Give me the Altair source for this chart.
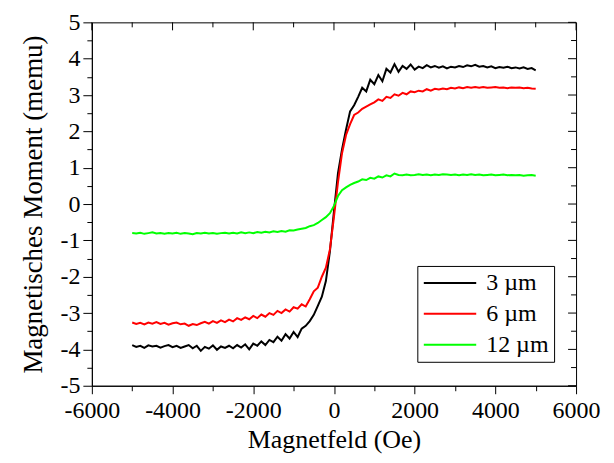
import altair as alt
import pandas as pd

field = list(range(-5000, 5001, 100))

m_3um = [
    -3.88, -3.93, -3.90, -3.96, -3.89, -3.92, -3.90, -3.95, -3.91, -3.88,
    -3.94, -3.90, -3.96, -3.92, -3.88, -3.97, -3.90, -4.04, -3.93, -3.98,
    -3.89, -4.01, -3.92, -3.96, -3.90, -3.97, -3.88, -3.95, -3.86, -4.00,
    -3.84, -3.90, -3.78, -3.88, -3.74, -3.80, -3.65, -3.76, -3.58, -3.70,
    -3.52, -3.66, -3.43, -3.35, -3.22, -3.05, -2.80, -2.55, -2.12, -1.30,
    -0.20, 0.85, 1.50, 2.05, 2.55, 2.72, 2.95, 3.20, 3.10, 3.42,
    3.30, 3.55, 3.38, 3.72, 3.62, 3.85, 3.64, 3.80, 3.72, 3.84,
    3.70, 3.78, 3.74, 3.82, 3.76, 3.80, 3.75, 3.79, 3.73, 3.78,
    3.76, 3.80, 3.77, 3.82, 3.79, 3.83, 3.78, 3.80, 3.76, 3.79,
    3.74, 3.77, 3.75, 3.78, 3.74, 3.76, 3.73, 3.76, 3.72, 3.74,
    3.68,
]

m_6um = [
    -3.26, -3.30, -3.27, -3.31, -3.26, -3.29, -3.25, -3.30, -3.27, -3.32,
    -3.28, -3.26, -3.31, -3.29, -3.35, -3.30, -3.33, -3.28, -3.24, -3.29,
    -3.22, -3.27, -3.20, -3.25, -3.18, -3.23, -3.14, -3.19, -3.12, -3.17,
    -3.08, -3.14, -3.04, -3.10, -3.00, -3.05, -2.94, -3.00, -2.90, -2.96,
    -2.84, -2.88, -2.76, -2.82, -2.62, -2.40, -2.30, -2.00, -1.75, -1.25,
    -0.35, 0.60, 1.40, 1.90, 2.20, 2.45, 2.52, 2.62, 2.68, 2.74,
    2.80, 2.88, 2.84, 2.95, 2.92, 3.02, 2.98, 3.06, 3.02, 3.10,
    3.08, 3.12, 3.10, 3.16, 3.12, 3.17, 3.15, 3.18, 3.16, 3.20,
    3.18, 3.21, 3.19, 3.22, 3.20, 3.22, 3.20, 3.22, 3.20, 3.21,
    3.22, 3.20, 3.21, 3.19, 3.21, 3.20, 3.21, 3.19, 3.20, 3.18,
    3.17,
]

m_12um = [
    -0.80, -0.81, -0.79, -0.82, -0.80, -0.78, -0.81, -0.80, -0.82, -0.80,
    -0.81, -0.79, -0.82, -0.80, -0.81, -0.83, -0.80, -0.81, -0.79, -0.81,
    -0.80, -0.82, -0.80, -0.79, -0.81, -0.79, -0.81, -0.78, -0.80, -0.78,
    -0.80, -0.77, -0.79, -0.76, -0.78, -0.75, -0.77, -0.74, -0.76, -0.72,
    -0.73, -0.70, -0.68, -0.66, -0.61, -0.58, -0.52, -0.44, -0.36, -0.25,
    -0.05, 0.22, 0.38, 0.46, 0.53, 0.58, 0.62, 0.68, 0.66, 0.72,
    0.70, 0.76, 0.73, 0.79, 0.76, 0.84, 0.80, 0.79, 0.81, 0.79,
    0.80, 0.82, 0.80, 0.81, 0.79, 0.81, 0.80, 0.82, 0.81, 0.80,
    0.81, 0.79, 0.81, 0.80, 0.82, 0.80, 0.81, 0.79, 0.80, 0.81,
    0.79, 0.80, 0.81, 0.79, 0.80, 0.79, 0.80, 0.78, 0.79, 0.80,
    0.78,
]

series_names = ["3 µm", "6 µm", "12 µm"]
series_colors = ["#000000", "#ff0000", "#00ff00"]

x_major = [-6000, -4000, -2000, 0, 2000, 4000, 6000]
x_minor = [-5000, -3000, -1000, 1000, 3000, 5000]
y_major = [-5, -4, -3, -2, -1, 0, 1, 2, 3, 4, 5]
y_minor = [-4.5, -3.5, -2.5, -1.5, -0.5, 0.5, 1.5, 2.5, 3.5, 4.5]

rows = []
for name, vals in zip(series_names, [m_3um, m_6um, m_12um]):
    for f, v in zip(field, vals):
        rows.append({"H": f, "M": v, "Probe": name})
df = pd.DataFrame(rows)

W, H = 485, 364
FONT = "Liberation Serif"

xscale = alt.Scale(domain=[-6000, 6000], nice=False, zero=False)
yscale = alt.Scale(domain=[-5, 5], nice=False, zero=False)

x_axis = alt.Axis(
    values=sorted(x_major + x_minor),
    labelExpr="datum.value % 2000 === 0 ? '' + datum.value : ''",
    tickSize={"condition": {"test": "datum.value % 2000 === 0", "value": 8}, "value": 5},
    labelOverlap=False,
    labelFlush=False,
    grid=False,
    title="Magnetfeld (Oe)",
    labelFont=FONT,
    titleFont=FONT,
    labelFontSize=24,
    titleFontSize=26,
    labelPadding=5,
    titlePadding=4,
)
y_axis = alt.Axis(
    values=sorted(y_major + y_minor),
    labelExpr="datum.value % 1 === 0 ? '' + datum.value : ''",
    tickSize={"condition": {"test": "datum.value % 1 === 0", "value": 9}, "value": 5},
    labelOverlap=False,
    labelFlush=False,
    grid=False,
    title="Magnetisches Moment (memu)",
    labelFont=FONT,
    titleFont=FONT,
    labelFontSize=24,
    titleFontSize=27,
    labelPadding=3,
    titlePadding=12,
)

lines = alt.Chart(df).mark_line(strokeWidth=2, clip=True).encode(
    x=alt.X("H:Q", scale=xscale, axis=x_axis),
    y=alt.Y("M:Q", scale=yscale, axis=y_axis),
    color=alt.Color(
        "Probe:N",
        scale=alt.Scale(domain=series_names, range=series_colors),
        legend=alt.Legend(
            title=None,
            orient="none",
            legendX=326,
            legendY=244,
            symbolType="M-1,0H4",
            symbolSize=441,
            symbolStrokeWidth=2,
            labelFont=FONT,
            labelFontSize=24,
            labelColor="#000000",
            labelOffset=40,
            labelExpr="length(datum.label) < 5 ? '\u2007' + datum.label : datum.label",
            rowPadding=7,
            padding=5,
            strokeColor="#000000",
            fillColor="#ffffff",
        ),
    ),
)

tx_major = pd.DataFrame({"v": x_major})
tx_minor = pd.DataFrame({"v": x_minor})
ty_major = pd.DataFrame({"v": y_major})
ty_minor = pd.DataFrame({"v": y_minor})

top_major = alt.Chart(tx_major).mark_rule(color="black").encode(
    x=alt.X("v:Q", scale=xscale, axis=x_axis), y=alt.value(0), y2=alt.value(8))
top_minor = alt.Chart(tx_minor).mark_rule(color="black").encode(
    x=alt.X("v:Q", scale=xscale, axis=x_axis), y=alt.value(0), y2=alt.value(5))
right_major = alt.Chart(ty_major).mark_rule(color="black").encode(
    y=alt.Y("v:Q", scale=yscale, axis=y_axis), x=alt.value(W), x2=alt.value(W - 8))
right_minor = alt.Chart(ty_minor).mark_rule(color="black").encode(
    y=alt.Y("v:Q", scale=yscale, axis=y_axis), x=alt.value(W), x2=alt.value(W - 5))

chart = alt.layer(lines, top_major, top_minor, right_major, right_minor).properties(
    width=W,
    height=H,
    autosize=alt.AutoSizeParams(type="none"),
    padding={"left": 84, "top": 14, "right": 30, "bottom": 69},
).configure_view(
    stroke="black", strokeWidth=1
).configure_axis(
    labelFont=FONT,
    titleFont=FONT,
    titleFontWeight="normal",
    labelColor="black",
    titleColor="black",
    tickColor="black",
    domainColor="black",
    tickWidth=1,
    domainWidth=1,
).configure_legend(
    labelFont=FONT,
)

chart.save("out.html", embed_options={"renderer": "svg", "actions": False})
